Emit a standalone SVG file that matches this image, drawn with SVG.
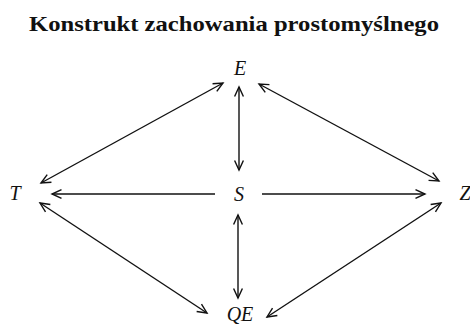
<svg xmlns="http://www.w3.org/2000/svg" width="470" height="327" viewBox="0 0 470 327">
<style>
.t{font-family:"Liberation Serif","Times New Roman",serif;font-weight:bold;font-size:21px;fill:#111}
.l{font-family:"Liberation Serif","Times New Roman",serif;font-style:italic;font-size:20px;fill:#111;text-anchor:middle}
.c line{stroke:#111;stroke-width:1.4;fill:none}
</style>
<defs>
<marker id="a" viewBox="-11 -6 13 12" refX="0" refY="0" markerWidth="13" markerHeight="12" markerUnits="userSpaceOnUse" orient="auto-start-reverse">
<path d="M-9.5,-4.4 L0,0 L-9.5,4.4" fill="none" stroke="#111" stroke-width="1.4"/>
</marker>
</defs>
<rect width="470" height="327" fill="#fff"/>
<text class="t" x="234" y="31" text-anchor="middle" textLength="410" lengthAdjust="spacingAndGlyphs">Konstrukt zachowania prostomyślnego</text>
<g id="E"><text class="l" x="240" y="75">E</text></g>
<g id="T"><text class="l" x="15" y="200">T</text></g>
<g id="S"><text class="l" x="239" y="201">S</text></g>
<g id="Z"><text class="l" x="465" y="200">Z</text></g>
<g id="QE"><text class="l" x="240" y="321">QE</text></g>
<g class="c" id="connectors">
<line x1="41" y1="183" x2="223" y2="83" marker-start="url(#a)" marker-end="url(#a)"/>
<line x1="259" y1="84" x2="439" y2="181" marker-start="url(#a)" marker-end="url(#a)"/>
<line x1="40" y1="203" x2="207" y2="313" marker-start="url(#a)" marker-end="url(#a)"/>
<line x1="441" y1="203" x2="267" y2="317" marker-start="url(#a)" marker-end="url(#a)"/>
<line x1="239" y1="87" x2="239" y2="170" marker-start="url(#a)" marker-end="url(#a)"/>
<line x1="238" y1="215" x2="238" y2="298" marker-start="url(#a)" marker-end="url(#a)"/>
<line x1="215" y1="194" x2="52" y2="194" marker-end="url(#a)"/>
<line x1="262" y1="194" x2="425" y2="194" marker-end="url(#a)"/>
</g>
</svg>
